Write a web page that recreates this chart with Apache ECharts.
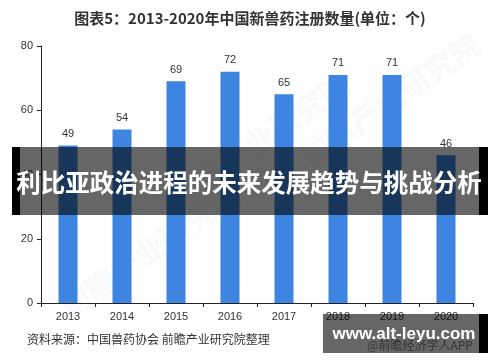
<!DOCTYPE html>
<html><head><meta charset="utf-8">
<script src="https://cdn.jsdelivr.net/npm/echarts@6/dist/echarts.min.js"></script>
<style>html,body{margin:0;padding:0;background:#fff}#c{width:500px;height:362px}</style>
</head><body><div id="c"></div>
<script>
var categories = ['2013','2014','2015','2016','2017','2018','2019','2020'];
var values = [49, 54, 69, 72, 65, 71, 71, 46];
var yTicks = [0, 20, 40, 60, 80];
var titleText = '图表5：2013-2020年中国新兽药注册数量(单位：个)';
var sourceText = '资料来源：中国兽药协会 前瞻产业研究院整理';
var bannerText = '利比亚政治进程的未来发展趋势与挑战分析';
var badgeText = 'www.alt-leyu.com';

var FONT = '"Noto Sans CJK SC", "Noto Sans", sans-serif';
var chart = echarts.init(document.getElementById('c'), null, {renderer: 'canvas'});
var wm = [];
[[150,250],[260,140],[390,100]].forEach(function(p){
  wm.push({type:'text', x:p[0], y:p[1], rotation: 0.6, z:0, silent:true,
    style:{text:'前瞻产业研究院', fill:'rgba(190,200,215,0.10)', font:'bold 30px ' + FONT, align:'center', verticalAlign:'middle'}});
});
chart.setOption({
  animation: false,
  textStyle: {fontFamily: FONT},
  title: {text: titleText, left: 'center', top: 6,
    textStyle: {fontSize: 15, fontWeight: 'bold', color: '#333', fontFamily: FONT}},
  grid: {left: 41, right: 27, top: 46, bottom: 59},
  xAxis: {type: 'category', data: categories,
    axisLine: {lineStyle: {color: '#222', width: 1}},
    axisTick: {show: true, alignWithLabel: false, length: 4, lineStyle: {color: '#222'}},
    axisLabel: {color: '#333', fontSize: 11, margin: 8, fontFamily: 'Arial, "Liberation Sans", sans-serif'}},
  yAxis: {type: 'value', min: 0, max: 80, interval: 20,
    splitLine: {show: false},
    axisLine: {show: true, lineStyle: {color: '#222', width: 1}},
    axisTick: {show: true, length: 4, lineStyle: {color: '#222'}},
    axisLabel: {color: '#333', fontSize: 11, margin: 8, fontFamily: 'Arial, "Liberation Sans", sans-serif',
      formatter: function(v){ return yTicks.indexOf(v) >= 0 ? String(v) : ''; }}},
  series: [{type: 'bar', data: values, barWidth: 19,
    itemStyle: {color: '#3d85e0'},
    label: {show: true, position: 'top', distance: 6, color: '#333', fontSize: 11,
      fontFamily: 'Arial, "Liberation Sans", sans-serif'}}],
  graphic: wm.concat([
    {type:'text', left: 27, top: 333, z: 10,
      style:{text: sourceText, fill:'#333', font: '12px ' + FONT}},
    {type:'rect', shape:{x:12, y:147, width:8, height:68}, style:{fill:'#000'}, z:100},
    {type:'rect', shape:{x:20, y:147, width:459, height:68}, style:{fill:'rgba(0,0,0,0.6)'}, z:100},
    {type:'rect', shape:{x:479, y:147, width:9, height:68}, style:{fill:'#000'}, z:100},
    {type:'text', x:249, y:183, z:101,
      style:{text: bannerText, fill:'#fff', font:'bold 24.5px ' + FONT, align:'center', verticalAlign:'middle'}},
    {type:'rect', shape:{x:323, y:314, width:156, height:39}, style:{fill:'rgba(0,0,0,0.6)'}, z:100},
    {type:'rect', shape:{x:479, y:314, width:9, height:39}, style:{fill:'#000'}, z:100},
    {type:'text', x:420, y:345, z:101,
      style:{text: '@前瞻经济学人APP', fill:'#333', font:'12px ' + FONT, align:'center', verticalAlign:'middle'}},
    {type:'text', x:404, y:334, z:102,
      style:{text: badgeText, fill:'#fff', font:'bold 17px "Liberation Sans", Arial, sans-serif', align:'center', verticalAlign:'middle'}}
  ])
});
</script></body></html>
